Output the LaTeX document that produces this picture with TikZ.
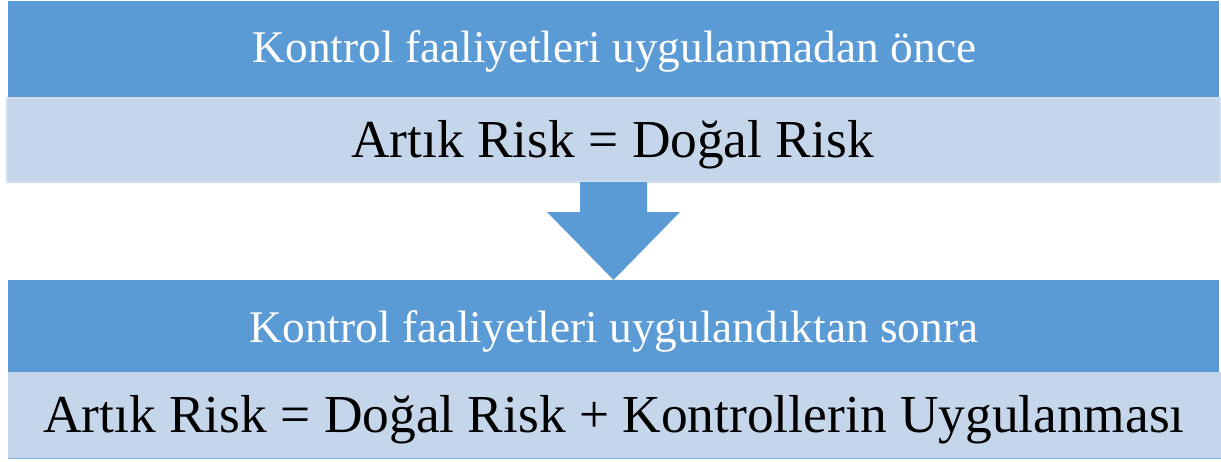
\documentclass[tikz,border=0pt]{standalone}
\usepackage{fontspec}
\setmainfont{Liberation Serif}
\definecolor{bandblue}{HTML}{5B9BD5}
\definecolor{bandlight}{HTML}{C5D6EB}
\definecolor{bandedge}{HTML}{D3DFEF}
\begin{document}
\begin{tikzpicture}[x=1pt,y=-1pt,
  band/.style={rectangle, inner sep=0pt, outer sep=0pt, draw=none},
  headtext/.style={anchor=base, inner sep=0pt, text=white, font=\fontsize{45.3}{50}\selectfont},
  bodytext/.style={anchor=base, inner sep=0pt, text=black, font=\fontsize{53.4}{60}\selectfont}]
  \useasboundingbox (0,0) rectangle (1221,461);
  % upper panel
  \node[band, fill=bandblue, minimum width=1211pt, minimum height=96pt] (h1) at (613.5,49) {};
  \node[band, fill=bandlight, draw=bandedge, line width=1.5pt, minimum width=1213pt, minimum height=84pt] (b1) at (613.5,140) {};
  % lower panel
  \node[band, fill=bandblue, minimum width=1211pt, minimum height=92pt] (h2) at (613.5,326) {};
  \node[band, fill=bandlight, minimum width=1213pt, minimum height=86pt] (b2) at (614.5,415) {};
  \draw[bandblue!80, line width=1pt] (b2.south west) -- (b2.south east);
  % texts
  \node[headtext] (t1) at (614.5,62) {Kontrol faaliyetleri uygulanmadan önce};
  \node[bodytext] (t2) at (612.5,157) {Artık Risk = Doğal Risk};
  \node[headtext] (t3) at (614,342) {Kontrol faaliyetleri uygulandıktan sonra};
  \node[bodytext] (t4) at (614,432) {Artık Risk = Doğal Risk + Kontrollerin Uygulanması};
  % block arrow between the panels
  \fill[bandblue] ([xshift=-33.5pt]b1.south) -- ([xshift=33.5pt]b1.south)
    -- ([xshift=33.5pt,yshift=68pt]h2.north) -- ([xshift=66.5pt,yshift=68pt]h2.north)
    -- (h2.north) -- ([xshift=-66.5pt,yshift=68pt]h2.north)
    -- ([xshift=-33.5pt,yshift=68pt]h2.north) -- cycle;
\end{tikzpicture}
\end{document}
